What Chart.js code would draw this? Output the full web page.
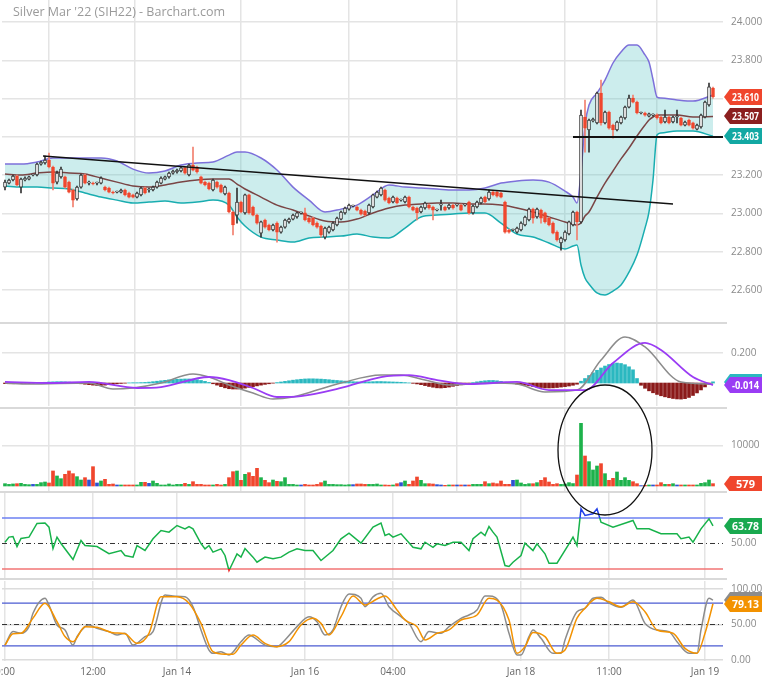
<!DOCTYPE html>
<html>
<head>
<meta charset="utf-8">
<script src="https://cdn.jsdelivr.net/npm/chart.js@4.4.0/dist/chart.umd.min.js"></script>
<style>
body{margin:0;background:#fff;}
#wrap{position:relative;width:762px;height:679px;overflow:hidden;font-family:"Open Sans","Noto Sans",sans-serif;}
.pane{position:absolute;left:0;}
.sep{position:absolute;left:0;width:727px;height:2px;background:#d9d9d9;}
#title{position:absolute;left:13px;top:3px;font-size:12.5px;color:#9a9a9a;}
#overlay{position:absolute;left:0;top:0;pointer-events:none;}
</style>
</head>
<body>
<div id="wrap">
  <canvas id="cMain" class="pane" width="762" height="322" style="top:0"></canvas>
  <canvas id="cMacd" class="pane" width="762" height="82" style="top:324px"></canvas>
  <canvas id="cVol" class="pane" width="762" height="82" style="top:409px"></canvas>
  <canvas id="cRsi" class="pane" width="762" height="85" style="top:493px"></canvas>
  <canvas id="cSto" class="pane" width="762" height="98" style="top:581px"></canvas>
  <div class="sep" style="top:322px"></div>
  <div class="sep" style="top:407px"></div>
  <div class="sep" style="top:491px"></div>
  <div class="sep" style="top:578px"></div>
  <div id="title">Silver Mar '22 (SIH22) - Barchart.com</div>
  <canvas id="overlay" width="762" height="679"></canvas>
</div>
<script>
// time axis
const timeIdx = [0, 22, 43, 75, 97, 129, 151, 175];
const timeLabels = ['0:00', '12:00', 'Jan 14', 'Jan 16', '04:00', 'Jan 18', '11:00', 'Jan 19'];

// 30 min bars
const open = [23.138,23.159,23.175,23.196,23.138,23.175,23.180,23.201,23.201,23.258,
23.264,23.279,23.243,23.164,23.191,23.191,23.164,23.123,23.076,23.138,
23.201,23.159,23.159,23.159,23.159,23.138,23.133,23.112,23.112,23.112,
23.123,23.107,23.097,23.086,23.097,23.133,23.123,23.123,23.138,23.159,
23.180,23.191,23.211,23.217,23.222,23.238,23.201,23.253,23.243,23.191,
23.164,23.159,23.123,23.164,23.149,23.102,23.107,23.008,22.992,23.060,
23.003,23.097,23.034,22.992,22.898,22.966,22.940,22.914,22.950,22.903,
22.929,22.956,22.971,22.982,23.003,23.003,22.976,22.976,22.950,22.935,
22.877,22.903,22.914,22.940,22.971,23.003,23.023,23.039,23.034,23.018,
23.013,23.003,23.034,23.086,23.097,23.123,23.081,23.060,23.081,23.070,
23.060,23.086,23.034,23.029,23.008,23.029,23.044,23.034,23.018,23.044,
23.034,23.029,23.044,23.044,23.044,23.044,23.060,23.003,23.034,23.055,
23.086,23.076,23.112,23.112,23.107,23.060,22.914,22.914,22.903,22.914,
22.940,22.966,23.023,22.982,23.018,23.003,22.976,22.950,22.903,22.846,
22.862,22.893,22.940,23.008,22.956,23.504,23.436,23.483,23.473,23.629,
23.473,23.530,23.462,23.436,23.473,23.499,23.556,23.603,23.582,23.525,
23.525,23.509,23.514,23.514,23.504,23.478,23.504,23.478,23.504,23.499,
23.462,23.488,23.473,23.441,23.452,23.504,23.567,23.655];
const high = [23.175,23.180,23.201,23.201,23.185,23.191,23.196,23.206,23.264,23.274,
23.300,23.316,23.248,23.222,23.243,23.196,23.170,23.128,23.143,23.206,
23.206,23.170,23.164,23.164,23.191,23.143,23.138,23.117,23.117,23.128,
23.128,23.112,23.102,23.112,23.138,23.138,23.133,23.143,23.170,23.191,
23.196,23.217,23.227,23.232,23.243,23.243,23.258,23.347,23.248,23.196,
23.170,23.164,23.180,23.170,23.154,23.143,23.112,23.013,23.133,23.065,
23.102,23.102,23.039,22.997,22.961,22.971,22.945,22.945,22.956,22.934,
22.971,22.976,22.997,23.008,23.008,23.029,22.982,22.982,22.956,22.940,
22.929,22.935,22.956,22.982,23.013,23.034,23.049,23.044,23.039,23.023,
23.018,23.049,23.102,23.117,23.138,23.128,23.086,23.091,23.086,23.076,
23.091,23.091,23.039,23.034,23.039,23.060,23.049,23.039,23.023,23.070,
23.039,23.049,23.049,23.049,23.049,23.049,23.065,23.044,23.065,23.086,
23.091,23.123,23.117,23.117,23.112,23.065,22.919,22.919,22.929,22.956,
22.987,23.029,23.029,23.029,23.023,23.008,22.982,22.956,22.909,22.877,
22.909,22.961,23.013,23.013,23.540,23.593,23.493,23.498,23.634,23.697,
23.535,23.535,23.467,23.483,23.509,23.561,23.619,23.619,23.587,23.530,
23.530,23.525,23.520,23.520,23.509,23.540,23.509,23.509,23.540,23.504,
23.483,23.493,23.478,23.467,23.519,23.587,23.681,23.660];
const low = [23.123,23.154,23.170,23.144,23.107,23.170,23.175,23.196,23.196,23.253,
23.258,23.238,23.123,23.154,23.185,23.133,23.107,23.034,23.070,23.133,
23.154,23.149,23.149,23.149,23.154,23.118,23.107,23.102,23.107,23.107,
23.092,23.081,23.081,23.081,23.092,23.102,23.112,23.118,23.133,23.154,
23.175,23.185,23.206,23.211,23.217,23.206,23.196,23.222,23.211,23.154,
23.144,23.123,23.118,23.133,23.107,23.097,23.003,22.888,22.950,23.003,
22.997,22.997,22.987,22.945,22.877,22.924,22.909,22.909,22.851,22.898,
22.924,22.950,22.966,22.976,22.997,22.961,22.950,22.935,22.924,22.877,
22.867,22.898,22.909,22.935,22.966,22.997,23.018,23.034,23.013,22.992,
22.987,22.997,23.029,23.081,23.092,23.065,23.050,23.055,23.050,23.065,
23.055,23.029,23.013,22.966,23.003,23.023,23.023,22.966,23.013,23.018,
23.013,23.023,23.023,23.039,23.013,23.039,22.997,22.997,23.029,23.050,
23.055,23.070,23.092,23.086,23.081,22.898,22.898,22.909,22.898,22.909,
22.935,22.961,22.950,22.976,22.950,22.950,22.935,22.893,22.856,22.809,
22.856,22.888,22.935,22.862,22.950,23.321,23.321,23.478,23.468,23.462,
23.468,23.441,23.394,23.431,23.468,23.493,23.551,23.577,23.520,23.520,
23.509,23.504,23.509,23.493,23.468,23.473,23.468,23.473,23.473,23.457,
23.457,23.457,23.441,23.436,23.446,23.499,23.561,23.603];
const close = [23.164,23.175,23.196,23.149,23.180,23.185,23.191,23.201,23.258,23.269,
23.279,23.243,23.159,23.211,23.232,23.138,23.112,23.070,23.138,23.201,
23.159,23.159,23.154,23.159,23.185,23.123,23.112,23.107,23.112,23.123,
23.097,23.086,23.086,23.107,23.133,23.107,23.123,23.138,23.164,23.185,
23.191,23.211,23.222,23.227,23.238,23.211,23.253,23.227,23.217,23.159,
23.149,23.128,23.175,23.138,23.112,23.138,23.008,22.940,23.060,23.008,
23.097,23.003,22.992,22.950,22.956,22.929,22.914,22.940,22.903,22.929,
22.966,22.971,22.992,23.003,23.003,22.966,22.956,22.940,22.929,22.888,
22.924,22.929,22.950,22.976,23.008,23.029,23.044,23.039,23.018,22.997,
22.992,23.044,23.097,23.112,23.133,23.070,23.055,23.086,23.055,23.070,
23.086,23.034,23.018,23.003,23.034,23.055,23.029,23.018,23.018,23.044,
23.018,23.044,23.029,23.044,23.018,23.044,23.003,23.039,23.060,23.081,
23.060,23.112,23.097,23.091,23.086,22.903,22.903,22.914,22.924,22.950,
22.982,23.023,22.976,23.023,22.976,22.956,22.940,22.898,22.862,22.872,
22.903,22.956,23.008,22.956,23.514,23.446,23.488,23.493,23.629,23.473,
23.530,23.446,23.436,23.478,23.504,23.556,23.603,23.582,23.525,23.525,
23.514,23.520,23.514,23.499,23.473,23.504,23.473,23.504,23.504,23.462,
23.478,23.462,23.446,23.462,23.514,23.582,23.661,23.610];
const volume = [570,400,500,570,650,400,330,400,400,820,
980,740,3690,2460,1800,2870,3690,3030,2290,1470,
2050,1470,4750,740,1230,1640,410,490,250,250,
250,250,250,250,900,900,650,1230,650,250,
250,490,250,400,400,650,400,1060,400,400,
250,250,250,400,250,400,2050,3520,3690,1390,
2870,3280,2380,4340,2050,1390,820,1470,1150,1060,
2050,400,400,250,250,400,250,250,400,820,
1230,400,400,330,330,250,330,330,490,490,
400,400,400,490,250,250,200,250,570,820,
1230,410,1230,2210,1390,570,570,490,330,250,
160,250,250,250,250,250,250,400,400,400,
1060,570,740,570,1230,410,410,1390,1470,740,
400,570,570,820,1390,2050,980,400,570,400,
490,820,600,2700,15400,7370,5980,3930,4910,5490,
3030,1390,1880,3440,1390,2050,1390,1060,570,100,
160,250,250,250,820,400,400,570,250,250,
250,250,250,250,650,820,1470,579];

// bollinger bands, read at these bars
const bandIdx = [0,4,8,12,16,20,24,28,32,36,40,44,48,52,56,58,60,64,68,72,76,80,84,88,92,96,100,104,108,112,116,120,124,128,132,136,140,142,143,144,145,146,148,150,152,154,156,158,160,161,162,163,164,168,172,177];
const bandUpper = [23.258,23.258,23.269,23.290,23.290,23.290,23.290,23.274,23.232,23.211,23.222,23.253,23.264,23.269,23.305,23.321,23.321,23.290,23.227,23.138,23.070,23.008,23.023,23.044,23.097,23.149,23.138,23.133,23.128,23.123,23.123,23.133,23.159,23.170,23.175,23.164,23.117,23.086,23.055,23.217,23.462,23.567,23.629,23.697,23.786,23.843,23.880,23.880,23.828,23.791,23.700,23.608,23.603,23.593,23.587,23.619];
const bandMid = [23.206,23.201,23.211,23.217,23.211,23.206,23.185,23.164,23.144,23.138,23.149,23.164,23.175,23.180,23.180,23.154,23.128,23.086,23.044,23.018,22.987,22.961,22.956,22.971,23.003,23.029,23.044,23.050,23.055,23.055,23.050,23.050,23.044,23.029,23.008,22.982,22.956,22.945,22.940,22.950,22.987,23.008,23.086,23.159,23.222,23.285,23.342,23.405,23.462,23.488,23.504,23.514,23.514,23.514,23.504,23.507];
const bandLower = [23.144,23.138,23.138,23.133,23.128,23.107,23.086,23.070,23.055,23.060,23.065,23.055,23.060,23.070,23.044,22.982,22.935,22.877,22.862,22.851,22.872,22.877,22.882,22.893,22.877,22.872,22.924,22.982,22.992,22.997,23.003,23.003,22.950,22.893,22.877,22.846,22.815,22.830,22.835,22.731,22.663,22.632,22.585,22.574,22.595,22.627,22.694,22.783,22.924,23.008,23.175,23.410,23.420,23.431,23.431,23.403];

// drawn lines
const trendIdx = [9.5, 167];
const trendVal = [23.300, 23.050];
const supportIdx = [142, 179.5];
const supportVal = [23.400, 23.400];

// MACD
const macdHist = [-0.004,-0.005,-0.005,-0.004,-0.003,-0.002,-0.002,-0.001,0.001,0.003,
0.005,0.007,0.008,0.009,0.009,0.008,0.006,0.004,-0.002,-0.005,
-0.008,-0.011,-0.014,-0.016,-0.016,-0.014,-0.011,-0.008,-0.005,-0.003,
-0.001,0.001,0.002,0.002,0.003,0.004,0.006,0.009,0.012,0.015,
0.018,0.021,0.023,0.025,0.026,0.027,0.027,0.026,0.022,0.017,
0.011,0.004,-0.005,-0.014,-0.024,-0.032,-0.038,-0.040,-0.040,-0.038,
-0.034,-0.029,-0.024,-0.019,-0.014,-0.009,-0.005,-0.001,0.003,0.007,
0.011,0.015,0.019,0.022,0.025,0.027,0.028,0.028,0.027,0.026,
0.024,0.022,0.019,0.017,0.015,0.013,0.011,0.009,0.008,0.007,
0.007,0.008,0.009,0.010,0.010,0.009,0.008,0.007,0.006,0.005,
0.003,0.001,-0.002,-0.006,-0.011,-0.017,-0.023,-0.028,-0.032,-0.033,
-0.031,-0.027,-0.022,-0.017,-0.012,-0.007,-0.002,0.003,0.008,0.012,
0.015,0.017,0.017,0.015,0.011,0.006,0.001,-0.003,-0.007,-0.011,
-0.015,-0.019,-0.023,-0.027,-0.030,-0.033,-0.033,-0.032,-0.030,-0.027,
-0.024,-0.020,-0.015,-0.008,0.012,0.030,0.050,0.068,0.085,0.100,
0.113,0.123,0.130,0.133,0.130,0.122,0.108,0.088,0.030,-0.015,
-0.035,-0.052,-0.065,-0.076,-0.085,-0.092,-0.098,-0.103,-0.106,-0.107,
-0.104,-0.096,-0.083,-0.066,-0.046,-0.026,-0.008,0.008];
const macdIdx = [0,6,21,27,32,39,47,51,56,62,67,72,78,84,94,99,105,111,121,128,135,143,149,155,160,169,177];
const macdVal = [0,-0.007,0,-0.04,-0.033,0,0.06,0.04,-0.013,-0.067,-0.107,-0.093,-0.047,0,0.053,0.053,0.02,-0.013,0,-0.007,-0.06,-0.047,0.153,0.307,0.24,0.007,-0.007];
const sigIdx = [0,11,21,33,39,51,56,62,68,74,84,94,101,108,116,128,136,145,152,160,164,172,177];
const sigVal = [0.007,0,0.007,-0.033,-0.027,0.04,0.02,-0.033,-0.093,-0.087,-0.033,0.04,0.053,0.02,-0.007,0.007,-0.047,-0.047,0.133,0.267,0.22,0.04,-0.014];

// RSI
const rsiIdx = [0,1,2,3,4,6,8,10,11,12,13,14,17,19,20,23,26,29,30,32,33,35,37,39,41,43,45,46,47,49,50,51,52,54,55,56,57,58,59,60,62,63,65,67,69,71,73,75,77,79,82,84,86,89,92,94,95,96,97,99,102,104,105,107,108,110,112,114,116,117,119,120,121,122,123,125,126,127,129,130,132,133,135,136,138,141,142,143,144,145,147,148,149,152,157,158,161,164,168,169,171,172,174,176,177];
const rsiVal = [51,55,55.5,47.6,54,55,65.7,66,62.8,46,55,50,37.5,52.4,48.4,47.6,42,44.5,40.6,39.3,48.4,44.5,53.7,60.2,58.9,64.1,61.5,63.3,61.5,50,45.8,48.4,43.2,45.8,40.6,28.8,35.3,41.9,39.3,46,39.3,35.3,39.3,38,39.3,43.2,45.8,44.5,44.5,36.7,44.5,53.7,58.1,50.3,62.8,66,56.3,57.6,55,57.6,47,45.8,51,47,49.7,48.4,51,51,44.5,53.7,58.9,56.3,63.3,58.9,55,32.7,32,35.3,40.6,50.3,44.5,49.7,41.9,34.5,34.5,49.7,55,48.4,77.2,72,73.3,77.2,66.7,62.8,68,61.5,61.5,57.6,57.6,53.7,55,51,61.5,69.4,63.78];

// stochastics
const kIdx = [0,2,4,6,7,10,11,13,15,17,18,20,21,23,26,28,30,32,35,37,40,42,45,47,49,51,52,54,56,59,61,62,65,68,70,73,76,78,80,82,84,86,89,90,92,94,96,99,101,104,106,109,111,114,116,118,120,121,124,126,128,129,131,132,134,137,139,140,143,145,147,149,151,154,157,160,163,166,168,171,173,174,176,177];
const kVal = [21,40,37.6,47,65.8,87,77.5,49.3,42.3,21,32.9,47,49.3,44.6,40,35.2,37.6,21,32.9,40,91.5,90,89,75,42.3,14,9.4,11.7,7,25.8,35.2,32.9,21,18.8,28.2,47,61,54,35.2,42.3,75,93,87,75,89,94,75,61,51.6,25.8,40,37.6,47,58.7,63.4,70.4,90,90,77.5,37.6,7,7,32.9,42.3,30.5,9.4,9.4,28.2,68,72.8,87,88.3,80,74.2,84.5,51.6,42.3,40,25.8,9.4,9.4,42.3,87,84.5];
const dIdx = [0,2,4,7,10,13,15,17,20,23,27,30,33,36,39,43,46,49,52,55,57,59,62,65,68,71,74,77,79,81,84,87,90,93,95,98,100,103,105,108,111,114,118,121,123,126,128,130,132,135,138,140,143,145,148,151,154,157,160,163,167,170,173,175,177];
const dVal = [21,37,37.6,59,80,54,33,25.8,47,46,38.5,37,23.5,37.6,89,89,80,51.6,11.7,8.2,8.2,21,35.2,23.5,18.8,25.8,49.3,58.7,51.6,35.2,61,90,77.5,86,90,70.4,56.3,47,28.2,37.6,42.3,56.3,63.4,87,84.5,56.3,9.4,18.8,38.8,33,9.4,14,59,72.8,87,82,75,82,68,42.3,37.6,16.4,9.4,37.6,79.13];

// circled area in the volume pane
const ellipse = { idx: 150, value: 8850, rx: 47, ry: 65 };

Chart.defaults.font.family = '"Open Sans", "Noto Sans", sans-serif';
Chart.defaults.font.size = 10;
Chart.defaults.color = '#8a8a8a';

const pts = (idx, vals) => idx.map((x, i) => ({ x: x, y: vals[i] }));
const last = a => a[a.length - 1];
const GRID = '#e4e4e4';

function xAxis(labels) {
  return {
    type: 'linear', min: -0.75, max: 179.5, offset: false,
    afterBuildTicks: s => { s.ticks = timeIdx.map(v => ({ value: v })); },
    afterFit: s => { s.paddingLeft = 0; s.paddingRight = 0; s.height = labels ? 18 : 0; },
    grid: { color: GRID, lineWidth: 1.5, drawTicks: false },
    border: { display: false },
    ticks: { display: labels, autoSkip: false, maxRotation: 0, padding: 5, color: '#666',
      callback: (v, i) => timeLabels[i] }
  };
}

function yAxis(min, max, ticks, fmt, gridColor) {
  return {
    position: 'right', min: min, max: max,
    afterBuildTicks: s => { s.ticks = ticks.map(v => ({ value: v })); },
    afterFit: s => { s.width = 39; s.paddingTop = 0; s.paddingBottom = 0; },
    grid: { display: !!gridColor, color: gridColor || GRID, lineWidth: 1.5, drawTicks: false },
    border: { display: false },
    ticks: { padding: 8, callback: v => fmt(v) }
  };
}

// price tags on the right axis
const badgePlugin = {
  id: 'badges',
  afterDraw(chart, args, opts) {
    const { ctx, chartArea } = chart;
    const y = chart.scales.y;
    (opts.items || []).forEach(b => {
      const yy = Math.round(y.getPixelForValue(b.value));
      const x0 = chartArea.right + 1, x1 = x0 + 6, x2 = chart.width;
      ctx.save();
      ctx.fillStyle = b.color;
      ctx.beginPath();
      ctx.moveTo(x0, yy); ctx.lineTo(x1, yy - 8); ctx.lineTo(x2, yy - 8);
      ctx.lineTo(x2, yy + 8); ctx.lineTo(x1, yy + 8); ctx.closePath();
      ctx.fill();
      ctx.fillStyle = '#fff';
      ctx.font = 'bold 11px "Open Sans", sans-serif';
      ctx.textAlign = 'center'; ctx.textBaseline = 'middle';
      ctx.fillText(b.text, (x1 + x2) / 2 - 0.5, yy + 0.5, x2 - x1 - 5);
      ctx.restore();
    });
  }
};

// horizontal study levels
const levelPlugin = {
  id: 'levels',
  beforeDatasetsDraw(chart, args, opts) {
    const { ctx, chartArea } = chart;
    const y = chart.scales.y;
    (opts.items || []).forEach(l => {
      const yy = y.getPixelForValue(l.value);
      ctx.save();
      ctx.strokeStyle = l.color; ctx.lineWidth = l.width || 1.5;
      ctx.setLineDash(l.dash || []);
      ctx.beginPath(); ctx.moveTo(chartArea.left, yy); ctx.lineTo(chartArea.right, yy); ctx.stroke();
      ctx.restore();
    });
  }
};

function baseOptions(scales, plugins) {
  return {
    responsive: false, animation: false, events: [],
    layout: { padding: { left: 2, right: 0, top: 0, bottom: 0 }, autoPadding: false },
    plugins: Object.assign({ legend: { display: false }, tooltip: { enabled: false } }, plugins),
    scales: scales
  };
}

const up = close.map((c, i) => c > open[i] ? 1 : (c < open[i] ? -1 : 0));

// main price pane
new Chart(document.getElementById('cMain'), {
  type: 'bar',
  data: {
    datasets: [
      { type: 'line', data: pts(bandIdx, bandUpper), borderColor: '#7d70da', borderWidth: 1.5,
        pointRadius: 0, cubicInterpolationMode: 'monotone', fill: '+1',
        backgroundColor: 'rgba(95,200,200,0.32)', order: 7 },
      { type: 'line', data: pts(bandIdx, bandLower), borderColor: '#19adb0', borderWidth: 1.5,
        pointRadius: 0, cubicInterpolationMode: 'monotone', fill: false, order: 6 },
      { type: 'line', data: pts(bandIdx, bandMid), borderColor: '#7a4545', borderWidth: 1.5,
        pointRadius: 0, cubicInterpolationMode: 'monotone', fill: false, order: 5 },
      { data: high.map((h, i) => ({ x: i, y: [low[i], h] })), grouped: false, barThickness: 1,
        backgroundColor: up.map(u => u < 0 ? '#f2806f' : '#333'), order: 3 },
      { data: open.map((o, i) => ({ x: i, y: [o, close[i]] })), grouped: false, barThickness: 3,
        minBarLength: 1, borderSkipped: false, borderWidth: 1,
        backgroundColor: up.map(u => u < 0 ? '#f0462d' : '#fff'),
        borderColor: up.map(u => u < 0 ? '#f0462d' : '#333'), order: 2 },
      { type: 'line', data: pts(trendIdx, trendVal), borderColor: '#111', borderWidth: 1.5,
        pointRadius: 0, fill: false, order: 1 },
      { type: 'line', data: pts(supportIdx, supportVal), borderColor: '#111', borderWidth: 2,
        pointRadius: 0, fill: false, order: 1 }
    ]
  },
  options: baseOptions({
    x: xAxis(false),
    y: yAxis(22.4335, 24.115, [22.6, 22.8, 23.0, 23.2, 23.4, 23.6, 23.8, 24.0], v => v.toFixed(3), GRID)
  }, {
    badges: { items: [
      { value: last(close), color: '#f0462d', text: last(close).toFixed(3) },
      { value: last(bandMid), color: '#8b1f1f', text: last(bandMid).toFixed(3) },
      { value: last(bandLower), color: '#12a8a3', text: last(bandLower).toFixed(3) }
    ] }
  }),
  plugins: [badgePlugin]
});

// MACD pane
new Chart(document.getElementById('cMacd'), {
  type: 'bar',
  data: {
    datasets: [
      { data: macdHist.map((v, i) => ({ x: i, y: v })), barThickness: 3,
        backgroundColor: macdHist.map(v => v >= 0 ? '#2bb8c0' : '#8b1a1a'), order: 3 },
      { type: 'line', data: pts(macdIdx, macdVal), borderColor: '#8c8c8c', borderWidth: 1.5,
        pointRadius: 0, cubicInterpolationMode: 'monotone', order: 2 },
      { type: 'line', data: pts(sigIdx, sigVal), borderColor: '#9a3cf4', borderWidth: 1.8,
        pointRadius: 0, cubicInterpolationMode: 'monotone', order: 1 }
    ]
  },
  options: baseOptions({
    x: xAxis(false),
    y: yAxis(-0.153, 0.393, [0.2], v => v.toFixed(3), GRID)
  }, {
    badges: { items: [
      { value: last(macdHist), color: '#2bb8c0', text: last(macdHist).toFixed(3) },
      { value: last(sigVal), color: '#9a3cf4', text: last(sigVal).toFixed(3) }
    ] }
  }),
  plugins: [badgePlugin]
});

// volume pane
const volChart = new Chart(document.getElementById('cVol'), {
  type: 'bar',
  data: {
    datasets: [
      { data: volume.map((v, i) => ({ x: i, y: v })), barThickness: 3,
        backgroundColor: up.map(u => u > 0 ? '#1db24b' : (u < 0 ? '#f0462d' : '#2f52d0')) }
    ]
  },
  options: baseOptions({
    x: xAxis(false),
    y: yAxis(-1229, 18919, [10000], v => String(v), GRID)
  }, {
    badges: { items: [{ value: last(volume), color: '#f0462d', text: String(last(volume)) }] }
  }),
  plugins: [badgePlugin]
});

// RSI pane
function rsiColor(ctx) {
  const ch = ctx.chart, a = ch.chartArea;
  if (!a) return '#17b24a';
  const y = ch.scales.y, h = a.bottom - a.top;
  const s70 = (y.getPixelForValue(70) - a.top) / h;
  const s30 = (y.getPixelForValue(30) - a.top) / h;
  const g = ch.ctx.createLinearGradient(0, a.top, 0, a.bottom);
  g.addColorStop(0, '#2140e8'); g.addColorStop(s70, '#2140e8');
  g.addColorStop(s70, '#17b24a'); g.addColorStop(s30, '#17b24a');
  g.addColorStop(s30, '#e22'); g.addColorStop(1, '#e22');
  return g;
}
new Chart(document.getElementById('cRsi'), {
  type: 'line',
  data: {
    datasets: [
      { data: pts(rsiIdx, rsiVal), borderColor: rsiColor, borderWidth: 1.5, pointRadius: 0, tension: 0 }
    ]
  },
  options: baseOptions({
    x: xAxis(false),
    y: yAxis(22.94, 89.6, [50], v => v.toFixed(2), null)
  }, {
    levels: { items: [
      { value: 70, color: '#6d80f2' },
      { value: 50, color: '#333', width: 1, dash: [5, 3, 1, 3] },
      { value: 30, color: '#f27474' }
    ] },
    badges: { items: [{ value: last(rsiVal), color: '#19a94f', text: last(rsiVal).toFixed(2) }] }
  }),
  plugins: [levelPlugin, badgePlugin]
});

// stochastics pane
new Chart(document.getElementById('cSto'), {
  type: 'line',
  data: {
    datasets: [
      { data: pts(kIdx, kVal), borderColor: '#8c8c8c', borderWidth: 1.5, pointRadius: 0,
        cubicInterpolationMode: 'monotone', order: 2 },
      { data: pts(dIdx, dVal), borderColor: '#f39200', borderWidth: 1.5, pointRadius: 0,
        cubicInterpolationMode: 'monotone', order: 1 }
    ]
  },
  options: baseOptions({
    x: xAxis(true),
    y: yAxis(-1.41, 111.27, [0, 50, 100], v => v.toFixed(2), '#dcdcdc')
  }, {
    levels: { items: [
      { value: 80, color: '#4b5bd2', width: 1.3 },
      { value: 50, color: '#333', width: 1, dash: [5, 3, 1, 3] },
      { value: 20, color: '#4b5bd2', width: 1.3 }
    ] },
    badges: { items: [
      { value: last(kVal), color: '#8c8c8c', text: last(kVal).toFixed(2) },
      { value: last(dVal), color: '#f39200', text: last(dVal).toFixed(2) }
    ] }
  }),
  plugins: [levelPlugin, badgePlugin]
});

// hand drawn ellipse, placed through the volume scales
const oc = document.getElementById('overlay').getContext('2d');
const volTop = 409;
const ex = volChart.scales.x.getPixelForValue(ellipse.idx);
const ey = volTop + volChart.scales.y.getPixelForValue(ellipse.value);
oc.strokeStyle = '#111';
oc.lineWidth = 1.3;
oc.beginPath();
oc.ellipse(ex, ey, ellipse.rx, ellipse.ry, 0, 0, Math.PI * 2);
oc.stroke();
</script>
</body>
</html>
